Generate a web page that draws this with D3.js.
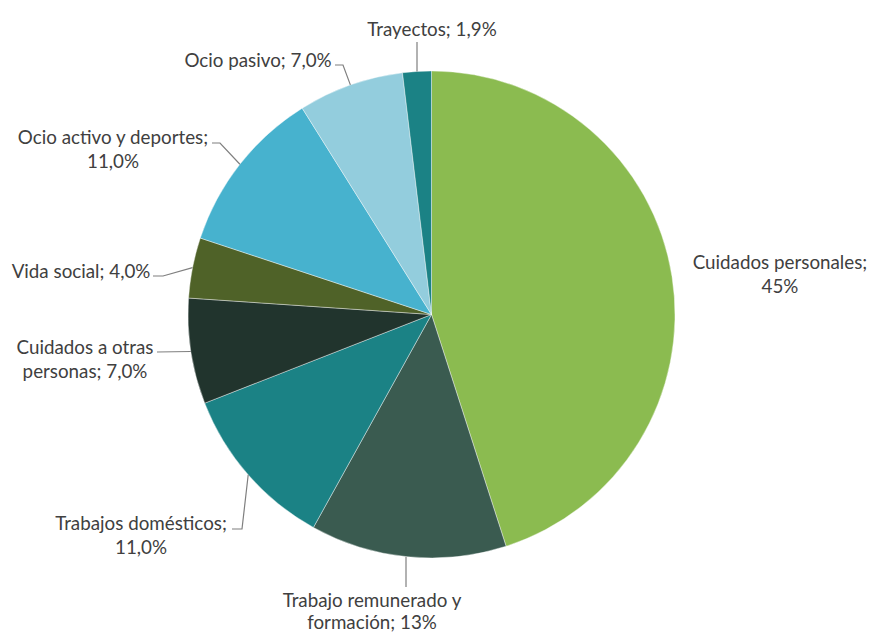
<!DOCTYPE html>
<html>
<head>
<meta charset="utf-8">
<script src="https://cdn.jsdelivr.net/npm/d3@7"></script>
<style>
  body { margin: 0; background: #fff; }
  text { font-family: Lato, "Open Sans", sans-serif; fill: #404040; }
</style>
</head>
<body>
<div id="container"></div>
<script>
const categories = [
  "Cuidados personales",
  "Trabajo remunerado y formación",
  "Trabajos domésticos",
  "Cuidados a otras personas",
  "Vida social",
  "Ocio activo y deportes",
  "Ocio pasivo",
  "Trayectos"
];
const values = [45, 13, 11, 7, 4, 11, 7, 1.9];
const valueLabels = ["45%", "13%", "11,0%", "7,0%", "4,0%", "11,0%", "7,0%", "1,9%"];
// label text lines as shown in the chart
const labelLines = [
  ["Cuidados personales;", "45%"],
  ["Trabajo remunerado y", "formación; 13%"],
  ["Trabajos domésticos;", "11,0%"],
  ["Cuidados a otras", "personas; 7,0%"],
  ["Vida social; 4,0%"],
  ["Ocio activo y deportes;", "11,0%"],
  ["Ocio pasivo; 7,0%"],
  ["Trayectos; 1,9%"]
];
const colors = ["#8bbb50", "#3a5b50", "#1b8285", "#21342d", "#4f6228", "#47b2ce", "#93cddd", "#1b8285"];

const w = 871, h = 634;
const cx = 431.5, cy = 314.5, r = 243.5;

// label placement: text centre and leader points
const layout = [
  { x: 780, y: 262, line: null },
  { x: 372, y: 600, line: [[406, 587]] },
  { x: 141, y: 523, line: [[242, 529], [232, 529]] },
  { x: 85, y: 347, line: [[157, 352]] },
  { x: 81, y: 271, line: [[163, 276], [153, 276]] },
  { x: 113, y: 137, line: [[220, 143], [212, 143]] },
  { x: 258, y: 60, line: [[343, 65], [335, 65]] },
  { x: 432, y: 29, line: [[417, 42]] }
];

const svg = d3.select("#container").append("svg")
  .attr("width", w).attr("height", h);

const pie = d3.pie().sort(null).value(d => d)(values);
const arc = d3.arc().innerRadius(0).outerRadius(r);

const g = svg.append("g").attr("transform", `translate(${cx},${cy})`);
g.selectAll("path.slice")
  .data(pie)
  .join("path")
  .attr("class", "slice")
  .attr("d", arc)
  .attr("fill", (d, i) => colors[i])
  .attr("stroke", "#ffffff")
  .attr("stroke-opacity", 0.5)
  .attr("stroke-width", 0.8);

// leader lines
pie.forEach((d, i) => {
  const L = layout[i];
  if (!L.line) return;
  const a = (d.startAngle + d.endAngle) / 2;
  const p0 = [cx + r * Math.sin(a), cy - r * Math.cos(a)];
  // vertical leaders for the top and bottom labels
  if (i === 7 || i === 1) p0[0] = L.line[0][0];
  svg.append("path")
    .attr("d", d3.line()([p0].concat(L.line)))
    .attr("fill", "none")
    .attr("stroke", "#7f7f7f")
    .attr("stroke-width", 1.2);
});

// labels
labelLines.forEach((lines, i) => {
  const L = layout[i];
  const t = svg.append("text")
    .attr("text-anchor", "middle")
    .attr("font-size", 18.8);
  lines.forEach((s, j) => {
    t.append("tspan")
      .attr("x", L.x)
      .attr("y", L.y + j * (i === 1 ? 22 : 24))
      .attr("dy", "0.35em")
      .text(s);
  });
});
</script>
</body>
</html>
